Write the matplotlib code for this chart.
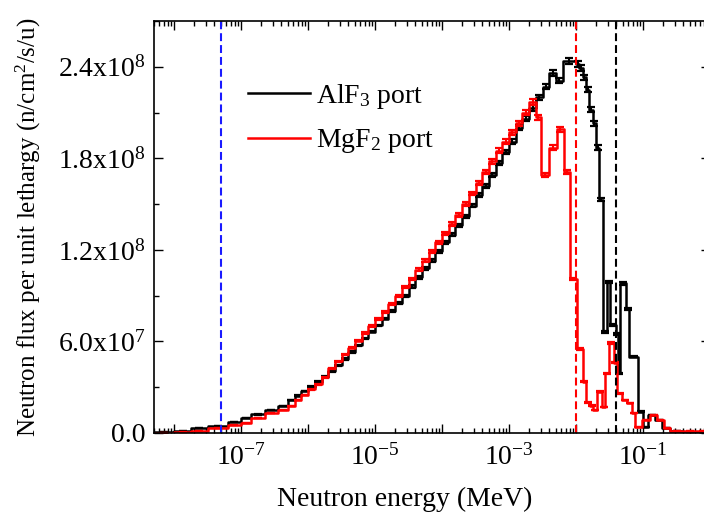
import numpy as np
import matplotlib
matplotlib.use("Agg")
import matplotlib.pyplot as plt
from matplotlib.ticker import LogLocator, MultipleLocator, FuncFormatter, NullFormatter

plt.rcParams['font.family'] = ['Liberation Serif', 'DejaVu Serif']
plt.rcParams['mathtext.fontset'] = 'custom'
plt.rcParams['mathtext.rm'] = 'Liberation Serif'
plt.rcParams['mathtext.it'] = 'Liberation Serif:italic'
plt.rcParams['mathtext.bf'] = 'Liberation Serif:bold'

# ---- group structure (log10 of energy boundaries, MeV) and flux per unit lethargy ----
alf3_edges_log = [
    -8.3, -8.0, -7.75, -7.5, -7.2, -7.0, -6.85, -6.65, -6.45, -6.3,
    -6.2, -6.1, -6.0, -5.9, -5.8, -5.7, -5.6, -5.5, -5.4, -5.3,
    -5.2, -5.1, -5.0, -4.9, -4.8, -4.7, -4.6, -4.5, -4.4, -4.3,
    -4.2, -4.1, -4.0, -3.9, -3.8, -3.7, -3.6, -3.5, -3.4, -3.3,
    -3.2, -3.1, -3.0, -2.9, -2.8, -2.7, -2.6, -2.5, -2.4, -2.3,
    -2.2, -2.0, -1.95, -1.9, -1.85, -1.8, -1.75, -1.7, -1.65, -1.6,
    -1.54, -1.49, -1.41, -1.38, -1.34, -1.25, -1.21, -1.07, -1.0, -0.92,
    -0.82, -0.71, -0.6, -0.4, -0.2, 0.0,
]
alf3_flux = [
    5e5, 1.5e6, 3.0e6, 4.6e6, 7.4e6, 9.8e6, 1.22e7, 1.5e7, 1.77e7, 2.16e7,
    2.44e7, 2.75e7, 3.03e7, 3.36e7, 3.69e7, 4.05e7, 4.45e7, 4.85e7, 5.3e7, 5.75e7,
    6.2e7, 6.64e7, 7.05e7, 7.5e7, 8.0e7, 8.5e7, 9.0e7, 9.6e7, 1.02e8, 1.08e8,
    1.13e8, 1.19e8, 1.25e8, 1.30e8, 1.36e8, 1.42e8, 1.49e8, 1.56e8, 1.62e8, 1.69e8,
    1.77e8, 1.84e8, 1.91e8, 2.0e8, 2.06e8, 2.13e8, 2.2e8, 2.27e8, 2.36e8, 2.31e8,
    2.44e8, 2.42e8, 2.39e8, 2.33e8, 2.25e8, 2.12e8, 2.03e8, 1.87e8, 1.53e8,
    6.6e7, 9.9e7, 7.1e7, 6.5e7, 3.9e7, 9.8e7, 8.1e7, 5.0e7, 1.4e7, 4e6,
    1.2e7, 8.5e6, 3e6, 1.2e6, 8e5, 8e5,
]

mgf2_edges_log = [
    -8.3, -8.0, -7.75, -7.5, -7.2, -7.0, -6.85, -6.65, -6.45, -6.3,
    -6.2, -6.1, -6.0, -5.9, -5.8, -5.7, -5.6, -5.5, -5.4, -5.3,
    -5.2, -5.1, -5.0, -4.9, -4.8, -4.7, -4.6, -4.5, -4.4, -4.3,
    -4.2, -4.1, -4.0, -3.9, -3.8, -3.7, -3.6, -3.5, -3.4, -3.3,
    -3.2, -3.1, -3.0, -2.9, -2.8, -2.7, -2.6, -2.53, -2.41, -2.29,
    -2.18, -2.09, -1.99, -1.9, -1.85, -1.79, -1.74, -1.68, -1.61, -1.57,
    -1.51, -1.44, -1.39, -1.31, -1.24, -1.16, -1.12, -1.02, -0.89, -0.79,
    -0.69, -0.59, -0.4, -0.2, 0.0,
]
mgf2_flux = [
    3e5, 8e5, 1.6e6, 3.0e6, 5.2e6, 6.8e6, 9.6e6, 1.29e7, 1.5e7, 1.77e7,
    2.16e7, 2.49e7, 2.86e7, 3.2e7, 3.65e7, 4.25e7, 4.7e7, 5.15e7, 5.6e7, 6.05e7,
    6.55e7, 7.0e7, 7.45e7, 7.95e7, 8.45e7, 9.0e7, 9.55e7, 1.01e8, 1.07e8, 1.13e8,
    1.19e8, 1.25e8, 1.31e8, 1.37e8, 1.43e8, 1.5e8, 1.57e8, 1.64e8, 1.71e8, 1.78e8,
    1.85e8, 1.91e8, 1.97e8, 2.03e8, 2.1e8, 2.17e8, 2.07e8, 1.69e8, 1.87e8,
    1.99e8, 1.71e8, 1.01e8, 5.5e7, 3.36e7, 2.0e7, 1.8e7, 1.5e7, 2.7e7, 1.7e7,
    3.9e7, 5.9e7, 4.6e7, 2.6e7, 2.16e7, 1.96e7, 1.3e7, 4e6, 8.5e6, 1.2e7,
    8.5e6, 3e6, 1e6, 1.5e6, 1e6,
]

# relative statistical uncertainty of the tallies
rel_uncertainty = 0.008

# reference energies marked with dashed lines (MeV)
thermal_cut = 5e-8
mgf2_cut = 1e-2
alf3_cut = 4e-2

energy_range = (5e-9, 1.0)
flux_range = (0, 2.7e8)

series_labels = [r'AlF$_3$ port', r'MgF$_2$ port']
series_colors = ['black', 'red']

fig = plt.figure(figsize=(7.04, 5.21), dpi=100)
ax = fig.add_axes([154 / 704, 88 / 521, 556 / 704, 412 / 521])

handles = []
for edges_log, flux, color, label in [
    (alf3_edges_log, alf3_flux, series_colors[0], series_labels[0]),
    (mgf2_edges_log, mgf2_flux, series_colors[1], series_labels[1]),
]:
    edges = 10.0 ** np.array(edges_log)
    flux = np.array(flux)
    xs = edges
    ys = np.append(flux, flux[-1])
    h, = ax.plot(xs, ys, drawstyle='steps-post', color=color, lw=1.8, label=label)
    handles.append(h)
    centers = np.sqrt(edges[:-1] * edges[1:])
    ax.errorbar(centers, flux, yerr=rel_uncertainty * flux, fmt='none',
                ecolor=color, elinewidth=1.5, capsize=3, capthick=1.6)

dash = (0, (3.8, 1.9))
ax.axvline(thermal_cut, color='#1a1aff', lw=1.5, ls=dash)
ax.axvline(mgf2_cut, color='red', lw=1.5, ls=dash)
ax.axvline(alf3_cut, color='black', lw=1.5, ls=dash)

ax.set_xscale('log')
ax.set_xlim(*energy_range)
ax.set_ylim(*flux_range)

ax.xaxis.set_major_locator(LogLocator(base=10, numticks=30))
ax.xaxis.set_minor_locator(LogLocator(base=10, subs=np.arange(2, 10), numticks=30))
ax.xaxis.set_minor_formatter(NullFormatter())


def xfmt(v, pos):
    # label every other decade inside the plotted range
    if v < energy_range[0] or v > energy_range[1]:
        return ''
    e = int(round(np.log10(v)))
    if e % 2 != 0:
        return r'10$^{%d}$' % e
    return ''


ax.xaxis.set_major_formatter(FuncFormatter(xfmt))

ax.yaxis.set_major_locator(MultipleLocator(6e7))
ax.yaxis.set_minor_locator(MultipleLocator(3e7))


def yfmt(v, pos):
    if v < -1 or v > flux_range[1]:
        return ''
    if abs(v) < 1:
        return '0.0'
    e = int(np.floor(np.log10(v)))
    m = v / 10 ** e
    return r'%.1fx10$^{%d}$' % (m, e)


ax.yaxis.set_major_formatter(FuncFormatter(yfmt))

ax.tick_params(which='both', direction='in', top=True, right=True, width=1.0,
               labelsize=20)
ax.tick_params(which='major', length=6.5)
ax.tick_params(which='minor', length=3.5)
ax.tick_params(axis='y', pad=6)
ax.tick_params(axis='x', pad=8)
for s in ax.spines.values():
    s.set_linewidth(1.2)

ax.set_xlabel('Neutron energy (MeV)', fontsize=20)
ax.xaxis.set_label_coords(0.451, -0.13)
ax.set_ylabel(r'Neutron flux per unit lethargy (n/cm$^2$/s/u)', fontsize=18)
ax.yaxis.set_label_coords(-0.2, 0.5)

ax.legend(handles=handles, loc='upper left', bbox_to_anchor=(0.169, 0.853),
          frameon=False, fontsize=20, handlelength=2.25, handletextpad=0.2,
          labelspacing=0.6, borderaxespad=0, borderpad=0)

fig.savefig('out.png', dpi=100)
